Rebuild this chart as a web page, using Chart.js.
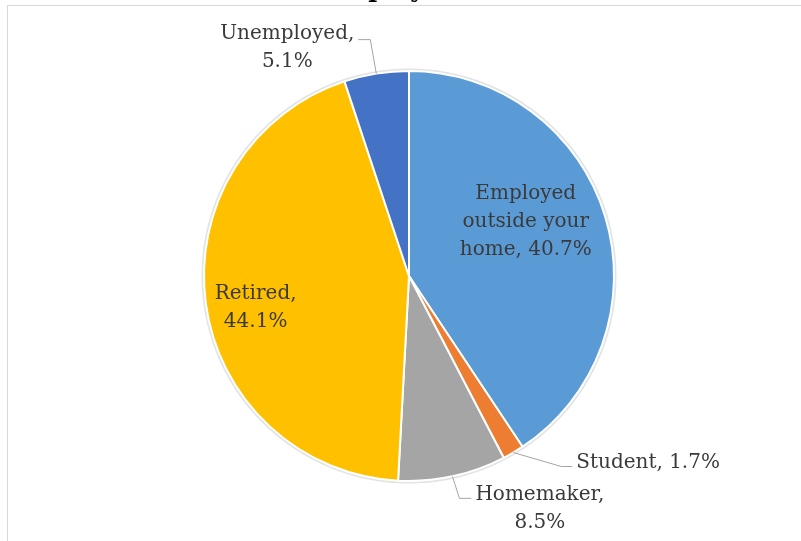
<!DOCTYPE html>
<html>
<head>
<meta charset="utf-8">
<script src="https://cdn.jsdelivr.net/npm/chart.js@4.4.0/dist/chart.umd.min.js"></script>
<style>
  html, body { margin: 0; padding: 0; background: #fff; overflow: hidden; }
  #wrap { width: 801px; height: 541px; }
</style>
</head>
<body>
<div id="wrap"><canvas id="employmentPie" width="801" height="541"></canvas></div>
<script>
// employment status shares (%)
const categories = ['Employed outside your home', 'Student', 'Homemaker', 'Retired', 'Unemployed'];
const shares = [40.7, 1.7, 8.5, 44.1, 5.1];
const sliceColors = ['#5B9BD5', '#ED7D31', '#A5A5A5', '#FFC000', '#4472C4'];
const chartTitle = 'Employment';

// label placement: inside the slice, or outside with an elbow leader line
const labelLayout = [
  { inside: true, rf: 0.6, dx: -1, dy: -19, wrap: 140 },
  { inside: false, elbow: [48, 14], tail: 11, dy: -4, wrap: 200 },
  { inside: false, elbow: [7, 22], tail: 12, dy: -4, wrap: 140 },
  { inside: true, rf: 0.75, dx: -1, dy: 11, wrap: 100 },
  { inside: false, elbow: [-6, -34], tail: -12, dy: -6, wrap: 140 }
];

const LABEL_FONT = '20px "DejaVu Serif"';
const LINE_H = 28;

function wrapWords(ctx, text, maxW) {
  const words = text.split(' ');
  const lines = [];
  let cur = '';
  words.forEach(w => {
    const test = cur ? cur + ' ' + w : w;
    if (cur && ctx.measureText(test).width > maxW) {
      lines.push(cur);
      cur = w;
    } else {
      cur = test;
    }
  });
  lines.push(cur);
  return lines;
}

const frameAndTitle = {
  id: 'frameAndTitle',
  beforeDraw(chart) {
    const ctx = chart.ctx;
    ctx.save();
    ctx.fillStyle = '#fff';
    ctx.fillRect(0, 0, chart.width, chart.height);
    ctx.strokeStyle = '#d9d9d9';
    ctx.lineWidth = 1;
    ctx.strokeRect(7.5, 5.5, chart.width + 20, chart.height + 20);
    // title sits above the frame
    ctx.fillStyle = '#000';
    ctx.font = 'bold 24px "DejaVu Serif"';
    ctx.textAlign = 'center';
    ctx.textBaseline = 'alphabetic';
    ctx.fillText(chartTitle, 409, -3);
    ctx.restore();
  },
  beforeDatasetsDraw(chart) {
    const arc = chart.getDatasetMeta(0).data[0];
    if (!arc) return;
    const { x, y, outerRadius } = arc.getProps(['x', 'y', 'outerRadius'], true);
    const ctx = chart.ctx;
    ctx.save();
    ctx.beginPath();
    ctx.arc(x, y, outerRadius + 1, 0, Math.PI * 2);
    ctx.strokeStyle = '#e3e3e3';
    ctx.lineWidth = 3;
    ctx.stroke();
    ctx.restore();
  }
};

const sliceLabels = {
  id: 'sliceLabels',
  afterDatasetsDraw(chart) {
    const ctx = chart.ctx;
    const meta = chart.getDatasetMeta(0);
    ctx.save();
    ctx.font = LABEL_FONT;
    ctx.fillStyle = '#3a3a3a';
    ctx.textBaseline = 'middle';
    ctx.textAlign = 'center';
    meta.data.forEach((arc, i) => {
      const p = arc.getProps(['x', 'y', 'startAngle', 'endAngle', 'outerRadius'], true);
      const mid = (p.startAngle + p.endAngle) / 2;
      const lay = labelLayout[i];
      const text = categories[i] + ', ' + shares[i] + '%';
      const lines = wrapWords(ctx, text, lay.wrap);
      const boxW = Math.max(...lines.map(l => ctx.measureText(l).width));

      if (lay.inside) {
        const cx = p.x + Math.cos(mid) * p.outerRadius * lay.rf + lay.dx;
        const cy = p.y + Math.sin(mid) * p.outerRadius * lay.rf + lay.dy;
        const top = cy - (lines.length - 1) * LINE_H / 2;
        lines.forEach((l, k) => ctx.fillText(l, cx, top + k * LINE_H));
        return;
      }

      // leader line: slice edge -> elbow -> short horizontal tail
      const ex = p.x + Math.cos(mid) * p.outerRadius;
      const ey = p.y + Math.sin(mid) * p.outerRadius;
      const bx = ex + lay.elbow[0];
      const by = ey + lay.elbow[1];
      const tx = bx + lay.tail;
      ctx.beginPath();
      ctx.moveTo(ex, ey);
      ctx.lineTo(bx, by);
      ctx.lineTo(tx, by);
      ctx.strokeStyle = '#a6a6a6';
      ctx.lineWidth = 1;
      ctx.stroke();

      const gap = 4;
      const boxLeft = lay.tail >= 0 ? tx + gap : tx - gap - boxW;
      const cx = boxLeft + boxW / 2;
      const top = by + lay.dy;
      lines.forEach((l, k) => ctx.fillText(l, cx, top + k * LINE_H));
    });
    ctx.restore();
  }
};

const ctx = document.getElementById('employmentPie').getContext('2d');
const employmentPie = new Chart(ctx, {
  type: 'pie',
  data: {
    labels: categories,
    datasets: [{
      data: shares,
      backgroundColor: sliceColors,
      borderColor: '#ffffff',
      borderWidth: 2
    }]
  },
  options: {
    responsive: false,
    animation: false,
    layout: { padding: { left: 203, right: 186, top: 70, bottom: 59 } },
    plugins: {
      legend: { display: false },
      tooltip: { enabled: false },
      title: { display: false }
    }
  },
  plugins: [frameAndTitle, sliceLabels]
});
</script>
</body>
</html>
